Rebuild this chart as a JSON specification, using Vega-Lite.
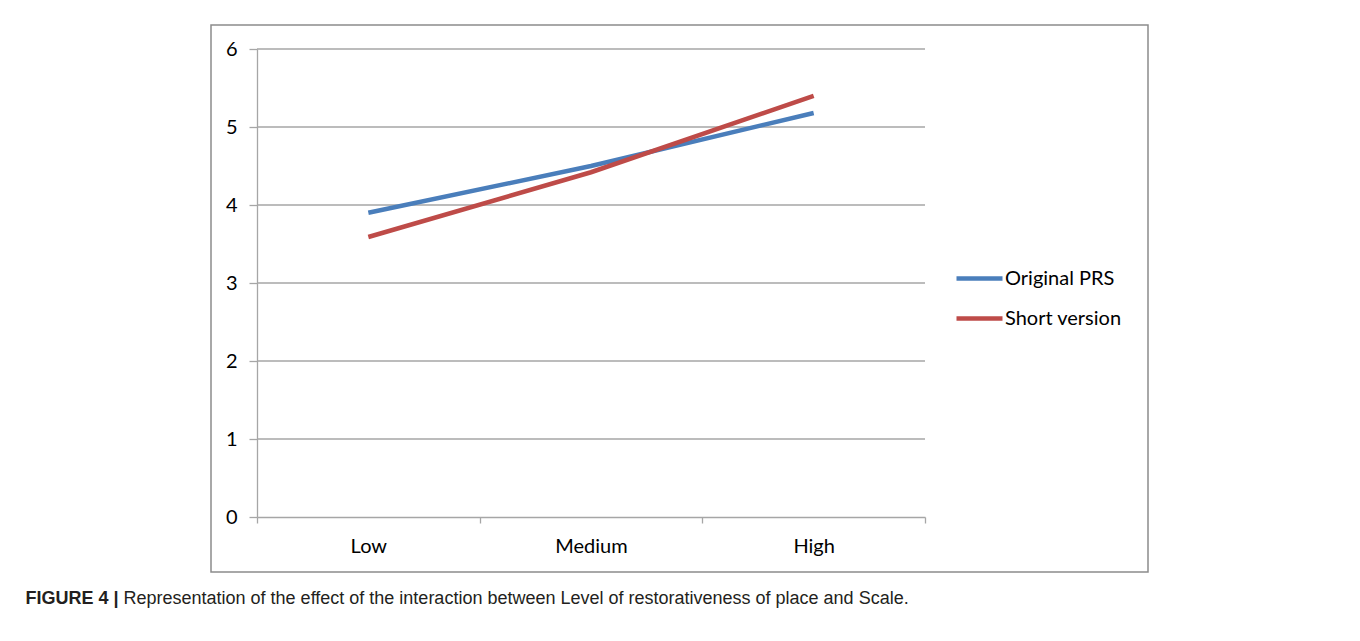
{
  "$schema": "https://vega.github.io/schema/vega-lite/v6.json",
  "width": 937,
  "height": 547,
  "autosize": {"type": "none"},
  "padding": {"left": 211, "top": 25, "right": 212, "bottom": 69},
  "background": "white",
  "config": {
    "view": {"stroke": "#8c8c8c", "strokeWidth": 1.5},
    "font": "Lato"
  },
  "datasets": {
    "scores": [
      {"level": "Low", "scale": "Original PRS", "value": 3.90},
      {"level": "Medium", "scale": "Original PRS", "value": 4.50},
      {"level": "High", "scale": "Original PRS", "value": 5.18},
      {"level": "Low", "scale": "Short version", "value": 3.59},
      {"level": "Medium", "scale": "Short version", "value": 4.42},
      {"level": "High", "scale": "Short version", "value": 5.40}
    ],
    "grid": [{"v": 1}, {"v": 2}, {"v": 3}, {"v": 4}, {"v": 5}, {"v": 6}]
  },
  "resolve": {"scale": {"x": "independent"}},
  "layer": [
    {
      "data": {"name": "grid"},
      "mark": {"type": "rule", "color": "#a6a6a6", "strokeWidth": 1.3},
      "encoding": {
        "x": {"datum": 0, "type": "quantitative", "scale": {"domain": [0, 3], "range": [46, 714]}, "axis": null},
        "x2": {"datum": 3},
        "y": {
          "field": "v", "type": "quantitative",
          "scale": {"domain": [0, 6], "range": [492, 24], "nice": false, "zero": false},
          "axis": {
            "values": [0, 1, 2, 3, 4, 5, 6], "offset": -46, "grid": false,
            "domainColor": "#a6a6a6", "domainWidth": 1.3, "tickColor": "#a6a6a6", "tickWidth": 1.3, "tickSize": 8,
            "labelPadding": 12, "labelFontSize": 20, "labelColor": "#000000", "labelFont": "Lato",
            "title": "FIGURE 4 |", "titleX": -232, "titleY": 578, "titleAngle": 0, "titleAlign": "left",
            "titleBaseline": "alphabetic", "titleFont": "Liberation Sans", "titleFontSize": 18,
            "titleFontWeight": "bold", "titleColor": "#231f20"
          }
        }
      }
    },
    {
      "data": {"name": "scores"},
      "mark": {"type": "line", "strokeWidth": 4.5, "clip": false},
      "encoding": {
        "x": {
          "field": "level", "type": "ordinal", "sort": ["Low", "Medium", "High"], "bandPosition": 0.5,
          "scale": {"type": "band", "range": [46, 714], "paddingInner": 0, "paddingOuter": 0},
          "axis": {
            "offset": -55, "tickBand": "extent", "tickSize": 6, "labelPadding": 13, "labelAngle": 0,
            "domainColor": "#a6a6a6", "domainWidth": 1.3, "tickColor": "#a6a6a6", "tickWidth": 1.3,
            "labelFontSize": 20, "labelColor": "#000000", "labelFont": "Lato", "grid": false,
            "title": "Representation of the effect of the interaction between Level of restorativeness of place and Scale.",
            "titleX": -88, "titleY": 86, "titleAlign": "left", "titleBaseline": "alphabetic",
            "titleFont": "Liberation Sans", "titleFontSize": 18, "titleFontWeight": "normal", "titleColor": "#231f20"
          }
        },
        "y": {
          "field": "value", "type": "quantitative",
          "scale": {"domain": [0, 6], "range": [492, 24], "nice": false, "zero": false},
          "axis": {
            "values": [0, 1, 2, 3, 4, 5, 6], "offset": -46, "grid": false,
            "domainColor": "#a6a6a6", "domainWidth": 1.3, "tickColor": "#a6a6a6", "tickWidth": 1.3, "tickSize": 8,
            "labelPadding": 12, "labelFontSize": 20, "labelColor": "#000000", "labelFont": "Lato",
            "title": "FIGURE 4 |", "titleX": -232, "titleY": 578, "titleAngle": 0, "titleAlign": "left",
            "titleBaseline": "alphabetic", "titleFont": "Liberation Sans", "titleFontSize": 18,
            "titleFontWeight": "bold", "titleColor": "#231f20"
          }
        },
        "color": {
          "field": "scale", "type": "nominal",
          "scale": {"domain": ["Original PRS", "Short version"], "range": ["#4a7ebb", "#be4b48"]},
          "legend": {
            "orient": "none", "legendX": 743, "legendY": 228, "title": null,
            "symbolType": "stroke", "symbolSize": 2116, "symbolStrokeWidth": 4.5,
            "labelFontSize": 20, "labelFont": "Lato", "labelColor": "#000000", "labelOffset": 0,
            "rowPadding": 4, "padding": 0
          }
        }
      }
    }
  ]
}
